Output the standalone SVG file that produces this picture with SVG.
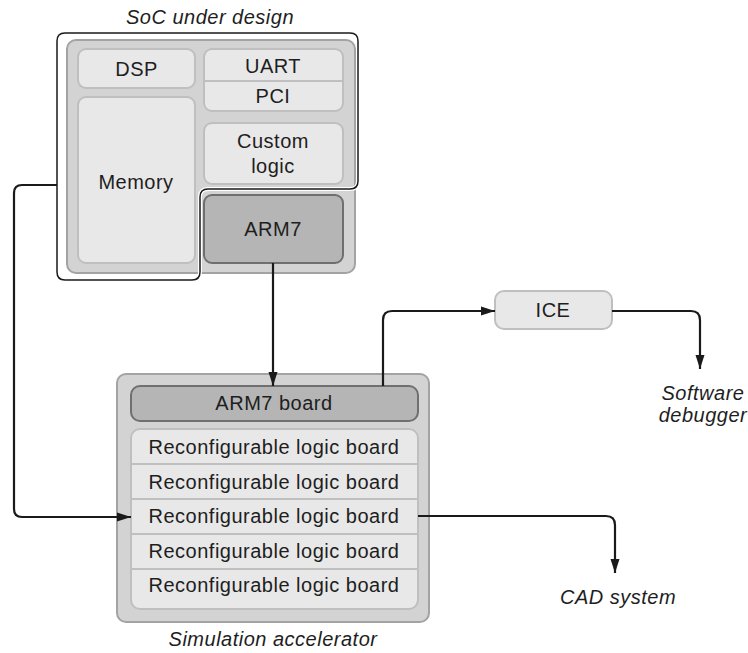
<svg xmlns="http://www.w3.org/2000/svg" width="748" height="653" viewBox="0 0 748 653">
<style>
text{font-family:"Liberation Sans",Arial,sans-serif;font-size:20px;fill:#1e1e1e;text-anchor:middle;letter-spacing:0.5px}
.it{font-style:italic}
.cont{fill:#d3d3d3;stroke:#a3a3a3;stroke-width:2}
.lt{fill:#e8e8e8;stroke:#bfbfbf;stroke-width:2}
.dk{fill:#b5b5b5;stroke:#6f6f6f;stroke-width:2}
.div{stroke:#bfbfbf;stroke-width:2}
.conn{fill:none;stroke:#1a1a1a;stroke-width:2.2}
</style>
<defs>
<marker id="ah" markerWidth="14" markerHeight="10" refX="14" refY="5" orient="auto" markerUnits="userSpaceOnUse">
<path d="M0,0.5 L14,5 L0,9.5 Z" fill="#1a1a1a"/>
</marker>
</defs>
<rect width="748" height="653" fill="#fff"/>

<g id="soc">
<rect class="cont" x="67" y="40" width="288" height="233" rx="9"/>
<g id="dsp"><rect class="lt" x="78" y="49" width="117" height="39" rx="8"/><text x="136.5" y="76">DSP</text></g>
<g id="memory"><rect class="lt" x="78" y="97" width="117" height="166" rx="8"/><text x="136" y="189">Memory</text></g>
<g id="uart-pci"><rect class="lt" x="204" y="49" width="139" height="62" rx="8"/><line class="div" x1="204" y1="81" x2="343" y2="81"/><text x="273" y="73">UART</text><text x="273" y="103">PCI</text></g>
<g id="custom"><rect class="lt" x="204" y="123" width="139" height="61" rx="8"/><text x="273" y="148">Custom</text><text x="273" y="173">logic</text></g>
<g id="arm7"><rect class="dk" x="204" y="195" width="139" height="68" rx="8"/><text x="273" y="236">ARM7</text></g>
<path d="M65,33 H350 Q358,33 358,41 V181 Q358,189 350,189 H208 Q200,189 200,197 V272 Q200,280 192,280 H65 Q57,280 57,272 V41 Q57,33 65,33 Z" fill="none" stroke="#fff" stroke-width="4"/>
<path d="M65,33 H350 Q358,33 358,41 V181 Q358,189 350,189 H208 Q200,189 200,197 V272 Q200,280 192,280 H65 Q57,280 57,272 V41 Q57,33 65,33 Z" fill="none" stroke="#1a1a1a" stroke-width="1.5"/>
<text class="it" x="210" y="24">SoC under design</text>
</g>

<g id="accelerator">
<rect class="cont" x="117" y="374" width="312" height="248" rx="9"/>
<g id="arm7board"><rect class="dk" x="131" y="386" width="287" height="35" rx="9"/><text x="274" y="410">ARM7 board</text></g>
<g id="rlb">
<rect class="lt" x="131" y="429" width="287" height="180" rx="9"/>
<line class="div" x1="131" y1="464" x2="418" y2="464"/>
<line class="div" x1="131" y1="499" x2="418" y2="499"/>
<line class="div" x1="131" y1="534" x2="418" y2="534"/>
<line class="div" x1="131" y1="569" x2="418" y2="569"/>
<text x="274" y="454">Reconfigurable logic board</text>
<text x="274" y="489">Reconfigurable logic board</text>
<text x="274" y="523">Reconfigurable logic board</text>
<text x="274" y="558">Reconfigurable logic board</text>
<text x="274" y="592">Reconfigurable logic board</text>
</g>
<text class="it" x="273" y="646">Simulation accelerator</text>
</g>

<g id="ice"><rect class="lt" x="495" y="291" width="117" height="38" rx="9"/><text x="553" y="317">ICE</text></g>
<g id="software"><text class="it" x="703" y="400">Software</text><text class="it" x="703" y="422">debugger</text></g>
<g id="cad"><text class="it" x="618" y="604">CAD system</text></g>

<g id="connectors">
<path class="conn" d="M273,263 V386" marker-end="url(#ah)"/>
<path class="conn" d="M57,185 H22 Q14,185 14,193 V509 Q14,517 22,517 H131" marker-end="url(#ah)"/>
<path class="conn" d="M383,386 V320 Q383,311 392,311 H495" marker-end="url(#ah)"/>
<path class="conn" d="M612,311 H691 Q700,311 700,320 V369" marker-end="url(#ah)"/>
<path class="conn" d="M418,516 H606 Q615,516 615,525 V573" marker-end="url(#ah)"/>
</g>
</svg>
